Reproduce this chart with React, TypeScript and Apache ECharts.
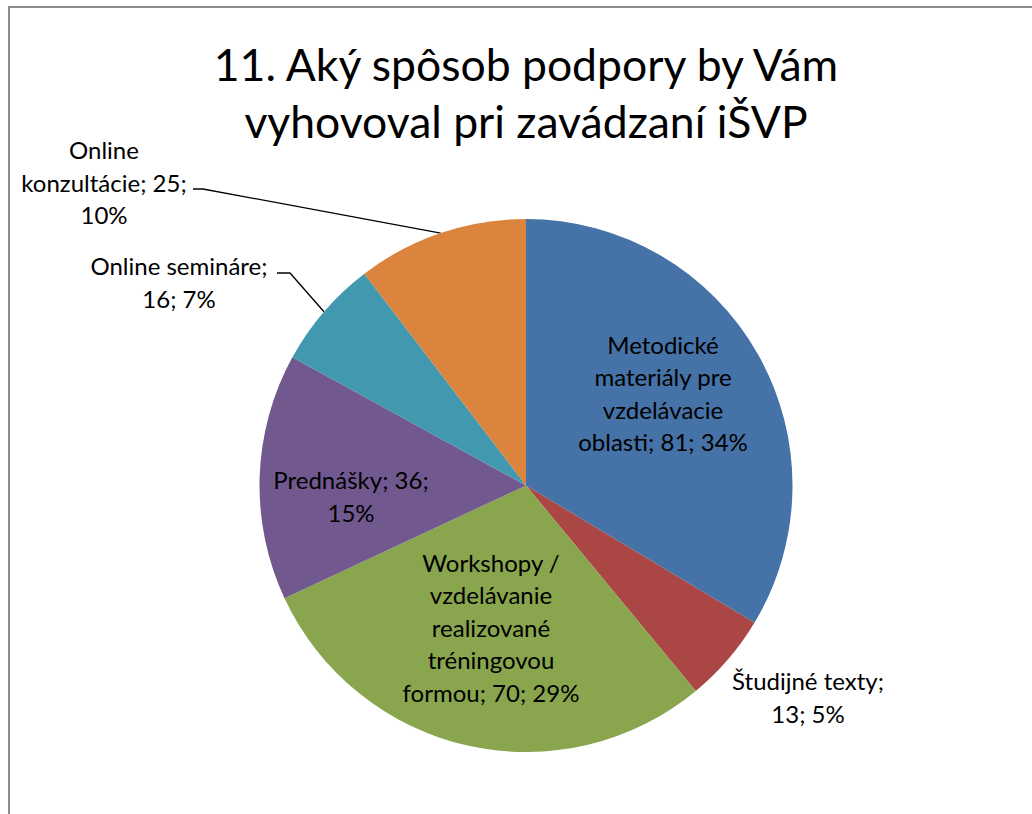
import React, { useEffect, useRef } from "react";
import * as echarts from "echarts";

const titleText = "11. Aký spôsob podpory by Vám\nvyhovoval pri zavádzaní iŠVP";
const categories = [
  "Metodické materiály pre vzdelávacie oblasti",
  "Študijné texty",
  "Workshopy / vzdelávanie realizované tréningovou formou",
  "Prednášky",
  "Online semináre",
  "Online konzultácie",
];
const values = [81, 13, 70, 36, 16, 25];
const colors = ["#4572A7", "#AA4643", "#89A54E", "#71588F", "#4198AF", "#DB843D"];

// display-only line breaks of the labels
const wrappedNames = [
  "Metodické\nmateriály pre\nvzdelávacie\noblasti",
  "Študijné texty",
  "Workshopy /\nvzdelávanie\nrealizované\ntréningovou\nformou",
  "Prednášky",
  "Online semináre",
  "Online\nkonzultácie",
];
const sepAfterName = ["; ", ";\n", "; ", "; ", ";\n", "; "];
const sepAfterValue = ["; ", "; ", "; ", ";\n", "; ", ";\n"];
const outsideLabel = [false, true, false, false, true, true];

// layout (pixels)
const CX = 526;
const CY = 485.5;
const R = 266.5;
const FONT = "Lato, 'Noto Sans', sans-serif";
// label centre offsets from pie centre
const labelOffsets: number[][] = [
  [137, -92.5],
  [282, 211.5],
  [-35, 141.5],
  [-175, 10.5],
  [-347, -203.5],
  [-422, -303.5],
];
// leader lines: [startX, elbowX, y] offsets from pie centre
const leaders: (number[] | null)[] = [null, null, null, null, [-249, -236, -212.5], [-333, -323, -296.5]];

export default function App() {
  const ref = useRef<HTMLDivElement>(null);
  useEffect(() => {
    if (!ref.current) return;
    const chart = echarts.init(ref.current, undefined, { renderer: "svg" });
    const data = categories.map((name, i) => ({
      name,
      value: values[i],
      itemStyle: { color: colors[i] },
      label: { position: outsideLabel[i] ? "outside" : "inside" },
      labelLine: { show: !!leaders[i] },
    }));
    chart.setOption({
      animation: false,
      backgroundColor: "#ffffff",
      title: {
        text: titleText,
        left: CX,
        top: 35,
        padding: 0,
        textAlign: "center",
        textStyle: {
          fontFamily: FONT,
          fontSize: 44.5,
          fontWeight: "normal",
          lineHeight: 57,
          color: "#000000",
        },
      },
      series: [
        {
          type: "pie",
          center: [CX, CY],
          radius: R,
          startAngle: 90,
          clockwise: true,
          avoidLabelOverlap: false,
          percentPrecision: 0,
          itemStyle: { borderWidth: 0 },
          emphasis: { disabled: true },
          data,
          label: {
            show: true,
            fontFamily: FONT,
            fontSize: 24,
            lineHeight: 32.5,
            color: "#000000",
            align: "center",
            formatter: (p: any) =>
              wrappedNames[p.dataIndex] + sepAfterName[p.dataIndex] + p.value + sepAfterValue[p.dataIndex] + p.percent + "%",
          },
          labelLine: {
            show: true,
            length: 20,
            length2: 10,
            lineStyle: { color: "#000000", width: 1.3 },
          },
          labelLayout: (params: any) => {
            const i = params.dataIndex;
            const res: any = {
              x: CX + labelOffsets[i][0],
              y: CY + labelOffsets[i][1],
              align: "center",
              verticalAlign: "middle",
            };
            const ld = leaders[i];
            if (ld && params.labelLinePoints) {
              const edge = params.labelLinePoints[0];
              res.labelLinePoints = [
                [edge[0], edge[1]],
                [CX + ld[1], CY + ld[2]],
                [CX + ld[0], CY + ld[2]],
              ];
            }
            return res;
          },
        },
      ],
    });
    return () => chart.dispose();
  }, []);

  return (
    <div style={{ position: "fixed", left: 0, top: 0, width: 1032, height: 814, overflow: "hidden", background: "#fff" }}>
      <div ref={ref} style={{ position: "absolute", left: 0, top: 0, width: 1032, height: 814 }} />
      <div
        style={{
          position: "absolute",
          left: 8,
          top: 6,
          width: 1300,
          height: 1100,
          border: "2px solid #8c8c8c",
          boxSizing: "border-box",
          pointerEvents: "none",
        }}
      />
    </div>
  );
}
